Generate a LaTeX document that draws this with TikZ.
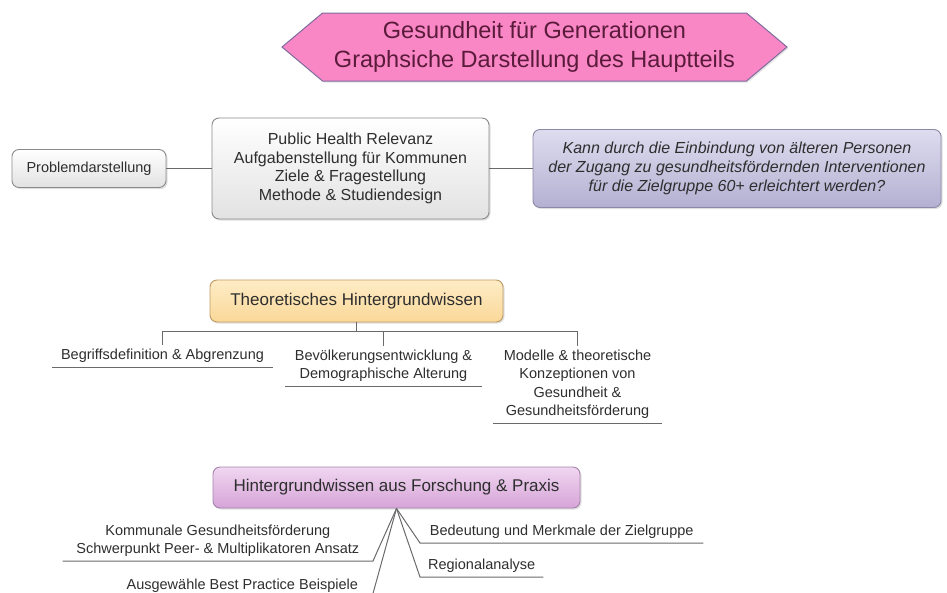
\documentclass[tikz,border=0pt]{standalone}
\usepackage{fontspec}
\setmainfont{Liberation Sans}
\usetikzlibrary{shapes.symbols,shadows}

\definecolor{titlepink}{HTML}{F987C6}
\definecolor{titleline}{HTML}{7E6C9E}
\definecolor{titletext}{HTML}{5A1A3A}
\definecolor{boxline}{HTML}{8A8A8A}
\definecolor{boxfill}{HTML}{E2E2E2}
\definecolor{textgray}{HTML}{2E2E2E}
\definecolor{asktop}{HTML}{DEDCEF}
\definecolor{askbottom}{HTML}{B4B0D2}
\definecolor{askline}{HTML}{8C88A6}
\definecolor{theotop}{HTML}{FEECC6}
\definecolor{theobottom}{HTML}{FAD898}
\definecolor{theoline}{HTML}{BF9A62}
\definecolor{restop}{HTML}{F0D6F0}
\definecolor{resbottom}{HTML}{D6A4D8}
\definecolor{resline}{HTML}{A484AC}
\definecolor{linegray}{HTML}{6A6A6A}

\begin{document}
\begin{tikzpicture}[x=1pt, y=-1pt,
  box/.style={draw=boxline, line width=0.9pt, rounded corners=7pt, top color=white, bottom color=boxfill,
    align=center, text=textgray, drop shadow={shadow xshift=1.5pt, shadow yshift=-1.5pt, opacity=0.25}},
  leaf/.style={align=center, inner xsep=0pt, inner ysep=4pt, anchor=south, text=textgray,
    font=\fontsize{14.5}{18.5}\selectfont},
  branch/.style={draw=linegray, line width=1pt}]
\clip (0,0) rectangle (947,592);

\node[shape=signal, signal to=west and east, signal pointer angle=80, draw=titleline, line width=1pt,
  fill=titlepink, minimum width=505, minimum height=68, inner sep=0pt, align=center, text=titletext,
  font=\fontsize{23.5}{29}\selectfont, drop shadow={shadow xshift=1.5pt, shadow yshift=-1.5pt, opacity=0.2}]
  (title) at (534.5,47) {Gesundheit für Generationen\\Graphsiche Darstellung des Hauptteils};

\node[box, minimum width=154, minimum height=38, font=\fontsize{14.5}{18}\selectfont] (problem) at (89,168.5) {Problemdarstellung};
\node[box, minimum width=277, minimum height=101, font=\fontsize{16}{18.5}\selectfont] (aims) at (350.5,168.5)
  {Public Health Relevanz\\Aufgabenstellung für Kommunen\\Ziele \& Fragestellung\\Methode \& Studiendesign};
\node[box, draw=askline, top color=asktop, bottom color=askbottom, minimum width=408, minimum height=78,
  font=\fontsize{16}{19}\selectfont\itshape] (question) at (737,168.5)
  {Kann durch die Einbindung von älteren Personen\\der Zugang zu gesundheitsfördernden Interventionen\\für die Zielgruppe 60+ erleichtert werden?};
\draw[branch] (problem) -- (aims) -- (question);

\node[box, draw=theoline, top color=theotop, bottom color=theobottom, minimum width=293, minimum height=42,
  font=\fontsize{17}{20}\selectfont] (theory) at (356.5,301) {Theoretisches Hintergrundwissen};
\node[leaf, minimum width=221] (theo1) at (162.5,367) {Begriffsdefinition \& Abgrenzung};
\node[leaf, minimum width=197] (theo2) at (383.5,386) {Bevölkerungsentwicklung \&\\Demographische Alterung};
\node[leaf, minimum width=169] (theo3) at (577.5,423)
  {Modelle \& theoretische\\Konzeptionen von\\Gesundheit \&\\Gesundheitsförderung};
\draw[branch] (theory.south) -- ++(0,9) coordinate (tjoin);
\draw[branch] (theo1.north) |- (tjoin) -| (theo3.north);
\draw[branch] (theo2.north) -- (theo2.north |- tjoin);
\foreach \leafname in {theo1,theo2,theo3}
  \draw[branch] (\leafname.south west) -- (\leafname.south east);

\node[box, draw=resline, top color=restop, bottom color=resbottom, minimum width=367, minimum height=41,
  font=\fontsize{17}{20}\selectfont] (research) at (396.5,487.5) {Hintergrundwissen aus Forschung \& Praxis};
\node[leaf, anchor=south west, minimum width=283] (res1) at (420,543) {Bedeutung und Merkmale der Zielgruppe};
\node[leaf, anchor=south west, minimum width=123] (res2) at (420,577) {Regionalanalyse};
\node[leaf, anchor=south east, minimum width=310] (res3) at (373,561)
  {Kommunale Gesundheitsförderung\\Schwerpunkt Peer- \& Multiplikatoren Ansatz};
\node[leaf, anchor=south east, minimum width=259] (res4) at (372,597) {Ausgewähle Best Practice Beispiele};
\draw[branch] (research.south) -- (res1.south west) -- (res1.south east);
\draw[branch] (research.south) -- (res2.south west) -- (res2.south east);
\draw[branch] (research.south) -- (res3.south east) -- (res3.south west);
\draw[branch] (research.south) -- (res4.south east) -- (res4.south west);
\end{tikzpicture}
\end{document}
